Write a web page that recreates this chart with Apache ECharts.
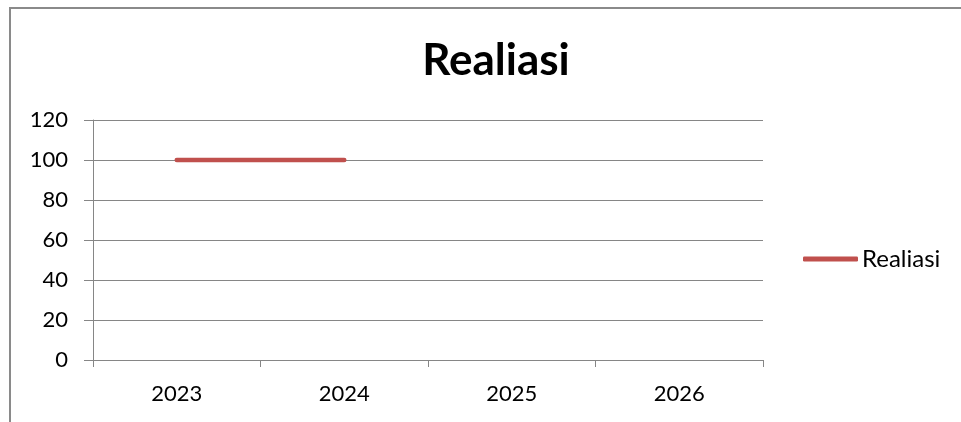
<!DOCTYPE html>
<html>
<head>
<meta charset="utf-8">
<script src="https://cdn.jsdelivr.net/npm/echarts@6/dist/echarts.min.js"></script>
<style>
  html, body { margin: 0; padding: 0; background: #fff; }
  #chart { width: 961px; height: 422px; }
</style>
</head>
<body>
<div id="chart"></div>
<script>
var years = ['2023', '2024', '2025', '2026'];
var realiasi = [100, 100, null, null];
var yTicks = { min: 0, max: 120, interval: 20 };

var font = 'Lato, "Open Sans", sans-serif';
var gridColor = '#868686';

var chart = echarts.init(document.getElementById('chart'));
chart.setOption({
    animation: false,
    title: {
        text: 'Realiasi',
        left: 491,
        top: 34,
        textAlign: 'center',
        textStyle: { fontFamily: font, fontSize: 44, fontWeight: 'bold', color: '#000' }
    },
    graphic: [{
        type: 'rect',
        shape: { x: 10, y: 8, width: 1000, height: 500 },
        style: { fill: 'none', stroke: '#8a8a8a', lineWidth: 2 },
        silent: true
    }],
    legend: {
        left: 798,
        top: 242,
        icon: 'roundRect',
        itemWidth: 55,
        itemHeight: 5,
        itemGap: 4,
        textStyle: { fontFamily: font, fontSize: 24, color: '#000', padding: [0, 0, 0, -1] },
        data: ['Realiasi']
    },
    grid: { left: 93, right: 198, top: 120, bottom: 62 },
    xAxis: {
        type: 'category',
        data: years,
        boundaryGap: true,
        axisLine: { lineStyle: { color: gridColor } },
        axisTick: { show: true, length: 7, lineStyle: { color: gridColor } },
        axisLabel: { fontFamily: font, fontSize: 22, color: '#000', margin: 23 }
    },
    yAxis: {
        type: 'value',
        min: yTicks.min,
        max: yTicks.max,
        interval: yTicks.interval,
        axisLine: { show: true, lineStyle: { color: gridColor } },
        axisTick: { show: true, length: 9, lineStyle: { color: gridColor } },
        splitLine: { lineStyle: { color: gridColor } },
        axisLabel: { fontFamily: font, fontSize: 22, color: '#000', margin: 25 }
    },
    series: [{
        name: 'Realiasi',
        type: 'line',
        data: realiasi,
        symbol: 'none',
        lineStyle: { color: '#c0504d', width: 4.5, cap: 'round' },
        itemStyle: { color: '#c0504d' }
    }]
});
</script>
</body>
</html>
